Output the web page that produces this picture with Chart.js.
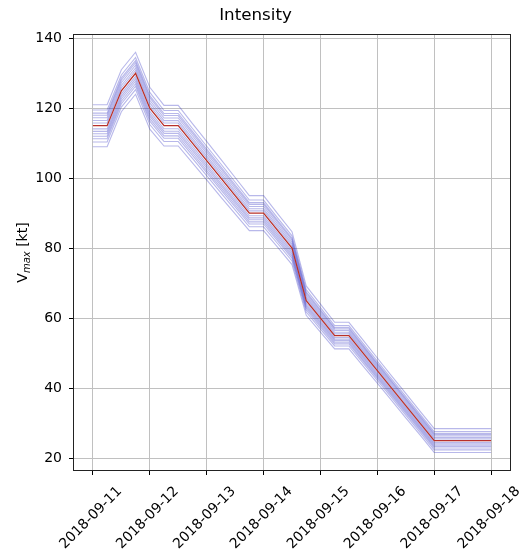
<!DOCTYPE html>
<html>
<head>
<meta charset="utf-8">
<script src="https://cdn.jsdelivr.net/npm/chart.js@4.4.1/dist/chart.umd.min.js"></script>
<style>
  body { margin: 0; background: #fff; }
</style>
</head>
<body>
<canvas id="intensityChart" width="527" height="554"></canvas>
<script>
// x values are days since 2018-09-11 00:00, one point every 6 hours
const dateLabels = ['2018-09-11', '2018-09-12', '2018-09-13', '2018-09-14',
                    '2018-09-15', '2018-09-16', '2018-09-17', '2018-09-18'];
const timeDays = [0, 0.25, 0.5, 0.75, 1, 1.25, 1.5, 1.75, 2, 2.25, 2.5, 2.75, 3, 3.25, 3.5,
                  3.75, 4, 4.25, 4.5, 4.75, 5, 5.25, 5.5, 5.75, 6, 6.25, 6.5, 6.75, 7];
const vmaxCentral = [115, 115, 125, 130, 120, 115, 115, 110, 105, 100, 95, 90, 90, 85, 80,
                     65, 60, 55, 55, 50, 45, 40, 35, 30, 25, 25, 25, 25, 25];
// half width of the ensemble band (kt) at each time step
const spreadKt = [6, 6, 6, 6, 6, 5.8, 5.8, 5.6, 5.5, 5.4, 5.2, 5, 5, 4.8, 4.7,
                  4.2, 4, 3.8, 3.8, 3.7, 3.6, 3.5, 3.5, 3.4, 3.4, 3.4, 3.4, 3.4, 3.4];
// where each ensemble member sits inside the band (-1 bottom, 1 top)
const memberLevels = [1, 0.75, 0.6, 0.5, 0.38, 0.25, 0.13, -0.15, -0.27, -0.38, -0.5, -0.62, -0.78, -1];
const yTickValues = [20, 40, 60, 80, 100, 120, 140];

Chart.defaults.font.family = 'DejaVu Sans';
Chart.defaults.font.size = 14;
Chart.defaults.color = '#000';

const datasets = [{
  label: 'central',
  data: timeDays.map((t, i) => ({ x: t, y: vmaxCentral[i] })),
  borderColor: '#b8302a',
  borderWidth: 1.3,
  pointRadius: 0,
  order: 0
}];
memberLevels.forEach((lv, k) => {
  datasets.push({
    label: 'member ' + (k + 1),
    data: timeDays.map((t, i) => ({ x: t, y: vmaxCentral[i] + lv * spreadKt[i] })),
    borderColor: 'rgba(40,40,190,0.33)',
    borderWidth: 1.1,
    pointRadius: 0,
    order: 1
  });
});

const axesDecor = {
  id: 'axesDecor',
  afterDraw(chart) {
    const { ctx, chartArea: a, scales: { x } } = chart;
    ctx.save();
    // box round the plot
    ctx.strokeStyle = '#222';
    ctx.lineWidth = 1;
    ctx.strokeRect(Math.round(a.left) + 0.5, Math.round(a.top) + 0.5,
                   Math.round(a.width) - 1, Math.round(a.height) - 1);
    // rotated date labels, centred under the ticks
    ctx.fillStyle = '#000';
    ctx.font = '14px "DejaVu Sans"';
    ctx.textAlign = 'center';
    ctx.textBaseline = 'middle';
    dateLabels.forEach((lab, i) => {
      const px = x.getPixelForValue(i);
      ctx.save();
      ctx.translate(px - 2, a.bottom + 47);
      ctx.rotate(-Math.PI / 4);
      ctx.fillText(lab, 0, 0);
      ctx.restore();
    });
    // y title V_max [kt]
    const big = '14px "DejaVu Sans"';
    const small = 'italic 10px "DejaVu Sans"';
    ctx.textAlign = 'left';
    ctx.textBaseline = 'alphabetic';
    ctx.font = big;
    const wV = ctx.measureText('V').width;
    const wK = ctx.measureText(' [kt]').width;
    ctx.font = small;
    const wM = ctx.measureText('max').width;
    const total = wV + wM + wK;
    ctx.translate(27, (a.top + a.bottom) / 2);
    ctx.rotate(-Math.PI / 2);
    let cx = -total / 2;
    ctx.font = big;
    ctx.fillText('V', cx, 0);
    cx += wV;
    ctx.font = small;
    ctx.fillText('max', cx, 3);
    cx += wM;
    ctx.font = big;
    ctx.fillText(' [kt]', cx, 0);
    ctx.restore();
  }
};

new Chart(document.getElementById('intensityChart'), {
  type: 'line',
  data: { datasets: datasets },
  options: {
    responsive: false,
    animation: false,
    devicePixelRatio: 1,
    layout: { padding: { left: 0, right: 16, top: 0, bottom: 0 } },
    plugins: {
      legend: { display: false },
      tooltip: { enabled: false },
      title: {
        display: true,
        text: 'Intensity',
        color: '#000',
        font: { size: 16.7, weight: 'normal' },
        padding: { top: 6, bottom: 8 }
      }
    },
    scales: {
      x: {
        type: 'linear',
        min: -0.35,
        max: 7.35,
        afterBuildTicks: s => { s.ticks = dateLabels.map((d, i) => ({ value: i })); },
        afterFit: s => { s.height = 83; },
        ticks: { display: false },
        grid: { color: '#c0c0c0', tickColor: '#000', tickLength: 4 },
        border: { display: false }
      },
      y: {
        type: 'linear',
        min: 16.3,
        max: 141.2,
        afterBuildTicks: s => { s.ticks = yTickValues.map(v => ({ value: v })); },
        afterFit: s => { s.width = 73; },
        ticks: { padding: 7, color: '#000' },
        grid: { color: '#c0c0c0', tickColor: '#000', tickLength: 4 },
        border: { display: false }
      }
    }
  },
  plugins: [axesDecor]
});
</script>
</body>
</html>
